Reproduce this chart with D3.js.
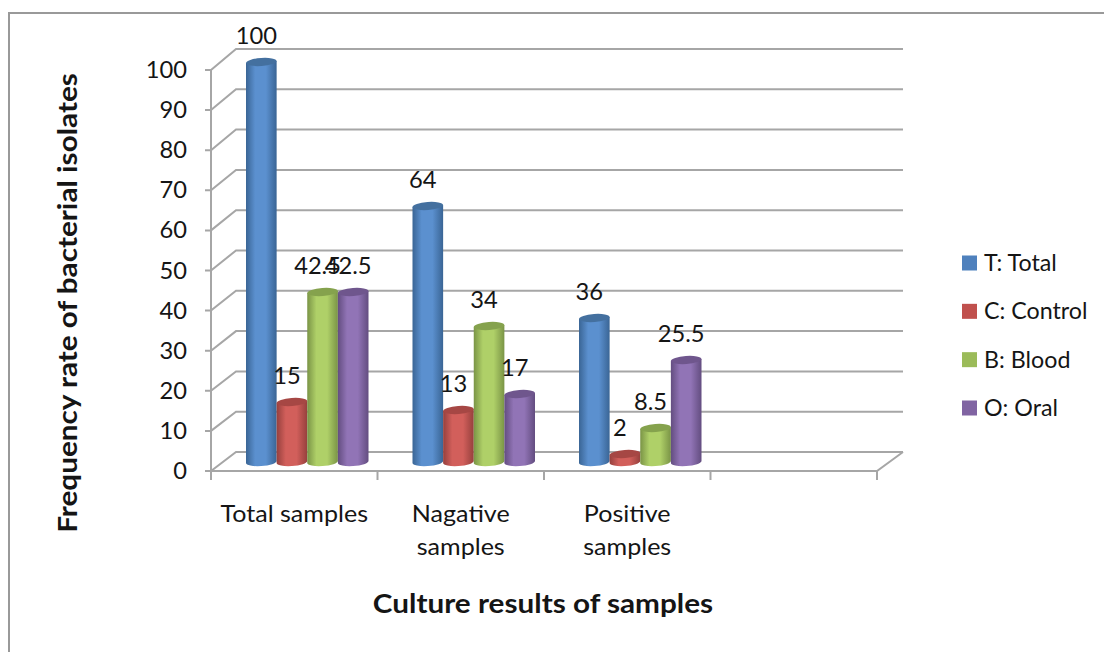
<!DOCTYPE html>
<html>
<head>
<meta charset="utf-8">
<script src="https://cdn.jsdelivr.net/npm/d3@7"></script>
<style>
  html, body { margin: 0; padding: 0; background: #fff; }
  svg { display: block; }
  text { font-family: Lato, "Open Sans", sans-serif; fill: #151515; }
</style>
</head>
<body>
<div id="chart"></div>
<script>
const categories = ["Total samples", "Nagative samples", "Positive samples", ""];
const categoryLines = [["Total samples"], ["Nagative", "samples"], ["Positive", "samples"], []];
const seriesNames = ["T: Total", "C: Control", "B: Blood", "O: Oral"];
const totalValues = [100, 64, 36];
const controlValues = [15, 13, 2];
const bloodValues = [42.5, 34, 8.5];
const oralValues = [42.5, 17, 25.5];
const yTicks = [0, 10, 20, 30, 40, 50, 60, 70, 80, 90, 100];

const seriesValues = [totalValues, controlValues, bloodValues, oralValues];
const colors = [
  { edge: "#3a6595", mid: "#5b90cf", top: "#44709f", key: "#4f81bd" },
  { edge: "#96403d", mid: "#d25f5b", top: "#a64744", key: "#c0504d" },
  { edge: "#7a9446", mid: "#afd068", top: "#85a24d", key: "#9bbb59" },
  { edge: "#634d80", mid: "#9174b6", top: "#6f568d", key: "#8064a2" }
];

const svg = d3.select("#chart").append("svg")
  .attr("width", 1104)
  .attr("height", 652);

// the source picture is stretched sideways, so widen the glyphs to match
function stretch(selection, k) {
  selection.each(function () {
    const len = this.getComputedTextLength();
    if (len > 0) {
      d3.select(this)
        .attr("textLength", len * k)
        .attr("lengthAdjust", "spacingAndGlyphs");
    }
  });
}

// page frame, only top and left show
svg.append("path")
  .attr("d", "M9,652V13H1104")
  .attr("fill", "none")
  .attr("stroke", "#999")
  .attr("stroke-width", 2);

const x = d3.scaleBand().domain(categories).range([211, 877]);
const xSeries = d3.scaleBand().domain(seriesNames).range([35, 157.5]);
const yFront = d3.scaleLinear().domain([0, 100]).range([471, 70]);
const yBack = d3.scaleLinear().domain([0, 100]).range([452, 49]);
const yBar = d3.scaleLinear().domain([0, 100]).range([462, 62]);
const backLeft = 236, backRight = 903;

const grid = svg.append("g")
  .attr("fill", "none")
  .attr("stroke", "#a6a6a6")
  .attr("stroke-width", 2);

// back wall lines + the slanted side wall lines
grid.selectAll("path.wall")
  .data(yTicks)
  .enter()
  .append("path")
  .attr("class", "wall")
  .attr("d", d => `M205,${yFront(d)}H211L${backLeft},${yBack(d)}H${backRight}`);

// floor and axes
grid.append("path").attr("d", `M${backRight},${yBack(0)}L877,${yFront(0)}H211V${yFront(100)}`);
grid.selectAll("line.xtick")
  .data(d3.range(5))
  .enter()
  .append("line")
  .attr("class", "xtick")
  .attr("x1", i => 211 + i * x.step())
  .attr("x2", i => 211 + i * x.step())
  .attr("y1", yFront(0))
  .attr("y2", 480);

// Gradients for the cylinders
const defs = svg.append("defs");
colors.forEach((c, i) => {
  const g = defs.append("linearGradient").attr("id", `cyl${i}`);
  g.append("stop").attr("offset", "0%").attr("stop-color", c.edge);
  g.append("stop").attr("offset", "30%").attr("stop-color", c.mid);
  g.append("stop").attr("offset", "65%").attr("stop-color", c.mid);
  g.append("stop").attr("offset", "100%").attr("stop-color", c.edge);
});

// Bars, ellipses lean a little like in the 3D view
const ry = 4;
const tilt = 1;
const bars = [];
seriesNames.forEach((name, s) => {
  seriesValues[s].forEach((v, c) => {
    bars.push({ s, c, v, x0: x(categories[c]) + xSeries(name) });
  });
});

const barW = xSeries.bandwidth();
const barG = svg.append("g")
  .selectAll("g")
  .data(bars)
  .enter()
  .append("g");

barG.append("path")
  .attr("fill", d => `url(#cyl${d.s})`)
  .attr("d", d => {
    const rx = barW / 2;
    return `M${d.x0},${yBar(d.v) + tilt}V${yBar(0) + tilt}` +
      `A${rx},${ry} -4 0 0 ${d.x0 + barW},${yBar(0) - tilt}V${yBar(d.v) - tilt}Z`;
  });

barG.append("ellipse")
  .attr("cx", d => d.x0 + barW / 2)
  .attr("cy", d => yBar(d.v))
  .attr("rx", barW / 2)
  .attr("ry", ry)
  .attr("transform", d => `rotate(-4 ${d.x0 + barW / 2} ${yBar(d.v)})`)
  .attr("fill", d => colors[d.s].top);

// Data labels
svg.append("g")
  .selectAll("text")
  .data(bars)
  .enter()
  .append("text")
  .attr("x", d => d.x0 + barW / 2 - 5)
  .attr("y", d => yBar(d.v) - 18)
  .attr("text-anchor", "middle")
  .attr("font-size", 23)
  .text(d => d.v)
  .call(stretch, 1.03);

// Y tick labels
svg.append("g")
  .selectAll("text")
  .data(yTicks)
  .enter()
  .append("text")
  .attr("x", 187)
  .attr("y", d => yFront(d) + 8)
  .attr("text-anchor", "end")
  .attr("font-size", 23)
  .text(d => d)
  .call(stretch, 1.03);

// Category labels
const catG = svg.append("g")
  .selectAll("text")
  .data(categoryLines)
  .enter()
  .append("text")
  .attr("text-anchor", "middle")
  .attr("font-size", 23);

catG.selectAll("tspan")
  .data((d, i) => d.map((t, j) => ({ t, j, cx: x(categories[i]) + x.bandwidth() / 2 })))
  .enter()
  .append("tspan")
  .attr("x", d => d.cx)
  .attr("y", d => 522 + d.j * 33)
  .text(d => d.t)
  .call(stretch, 1.09);

// Axis titles
svg.append("text")
  .attr("transform", "translate(77,303) rotate(-90)")
  .attr("text-anchor", "middle")
  .attr("font-size", 27)
  .attr("font-weight", 700)
  .text("Frequency rate of bacterial isolates")
  .call(stretch, 1.1);

svg.append("text")
  .attr("x", 543)
  .attr("y", 613)
  .attr("text-anchor", "middle")
  .attr("font-size", 27)
  .attr("font-weight", 700)
  .text("Culture results of samples")
  .call(stretch, 1.1);

// Legend
const legendY = d3.scalePoint().domain(seriesNames).range([263, 408]);
const legend = svg.append("g")
  .selectAll("g")
  .data(seriesNames)
  .enter()
  .append("g")
  .attr("transform", d => `translate(962,${legendY(d)})`);

legend.append("rect")
  .attr("y", -7.5)
  .attr("width", 15)
  .attr("height", 15)
  .attr("fill", (d, i) => colors[i].key);

legend.append("text")
  .attr("x", 22)
  .attr("y", 8)
  .attr("font-size", 23)
  .text(d => d)
  .call(stretch, 1.01);
</script>
</body>
</html>
